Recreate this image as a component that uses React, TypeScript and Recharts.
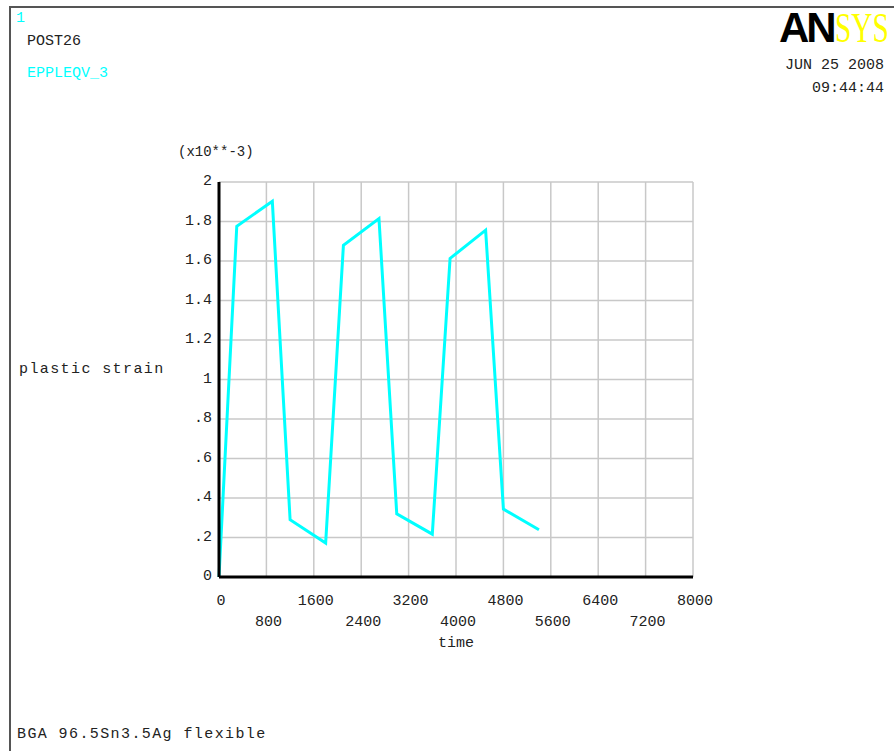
import React from "react";
import {
  LineChart,
  Line,
  XAxis,
  YAxis,
  CartesianGrid,
} from "recharts";

// time (s) and plastic strain (x10**-3)
const times = [0, 300, 900, 1200, 1800, 2100, 2700, 3000, 3600, 3900, 4500, 4800, 5400];
const strain = [0, 1.776, 1.902, 0.29, 0.172, 1.68, 1.815, 0.32, 0.217, 1.613, 1.756, 0.344, 0.239];

const xTicks = [0, 800, 1600, 2400, 3200, 4000, 4800, 5600, 6400, 7200, 8000];
const xTickLabels = ["0", "800", "1600", "2400", "3200", "4000", "4800", "5600", "6400", "7200", "8000"];
const yTicks = [0, 0.2, 0.4, 0.6, 0.8, 1, 1.2, 1.4, 1.6, 1.8, 2];
const yTickLabels = ["0", ".2", ".4", ".6", ".8", "1", "1.2", "1.4", "1.6", "1.8", "2"];

const data = times.map((t, i) => ({ time: t, strain: strain[i] }));

const MONO = "'Liberation Mono', 'DejaVu Sans Mono', monospace";
const INK = "#222";
const CYAN = "#00ffff";

const XTick = ({ x, y, index }: any) => (
  // alternate labels between two rows, like the ANSYS plot
  <text
    x={x + 2}
    y={y + (index % 2 === 0 ? 20 : 41)}
    textAnchor="middle"
    fontFamily={MONO}
    fontSize={15}
    fill={INK}
  >
    {xTickLabels[index]}
  </text>
);

const YTick = ({ x, y, index }: any) => (
  <text
    x={x + 1}
    y={y + 3}
    textAnchor="end"
    fontFamily={MONO}
    fontSize={15}
    fill={INK}
  >
    {yTickLabels[index]}
  </text>
);

export default function App() {
  return (
    <div style={{ position: "absolute", left: 0, top: 0, width: 894, height: 751, background: "#fff" }}>
      <LineChart
        width={894}
        height={751}
        data={data}
        margin={{ top: 182, right: 201, bottom: 114, left: 159 }}
      >
        <CartesianGrid stroke="#c8c8c8" strokeWidth={1.5} />
        <XAxis
          dataKey="time"
          type="number"
          domain={[0, 8000]}
          ticks={xTicks}
          interval={0}
          height={60}
          tickLine={false}
          axisLine={{ stroke: "#000", strokeWidth: 3 }}
          tick={<XTick />}
        />
        <YAxis
          type="number"
          domain={[0, 2]}
          ticks={yTicks}
          interval={0}
          width={60}
          tickLine={false}
          axisLine={{ stroke: "#000", strokeWidth: 3 }}
          tick={<YTick />}
        />
        <Line
          type="linear"
          dataKey="strain"
          stroke={CYAN}
          strokeWidth={3}
          dot={false}
          isAnimationActive={false}
        />
      </LineChart>

      <svg
        width={894}
        height={751}
        style={{ position: "absolute", left: 0, top: 0, pointerEvents: "none" }}
      >
        {/* window frame */}
        <polyline points="10,751 10,7 894,7" fill="none" stroke="#555" strokeWidth={2} />

        <text x={16} y={22} fontFamily={MONO} fontSize={15} fill={CYAN}>1</text>
        <text x={27} y={45} fontFamily={MONO} fontSize={15} fill={INK}>POST26</text>
        <text x={27} y={77} fontFamily={MONO} fontSize={15} fill={CYAN}>EPPLEQV_3</text>

        {/* logo */}
        <text x={779} y={42} fontFamily="'Liberation Sans', Arial, sans-serif" fontWeight={900} fontSize={42} letterSpacing={-3} fill="#000">AN</text>
        <text transform="translate(835,42) scale(0.7,1)" fontFamily="'Liberation Serif', serif" fontSize={42} fill="#ffff00">SYS</text>

        <text x={884} y={69} textAnchor="end" fontFamily={MONO} fontSize={15} fill={INK}>JUN 25 2008</text>
        <text x={884} y={92} textAnchor="end" fontFamily={MONO} fontSize={15} fill={INK}>09:44:44</text>

        <text x={178} y={156} fontFamily={MONO} fontSize={14} fill={INK}>(x10**-3)</text>
        <text x={19} y={373} fontFamily={MONO} fontSize={15} letterSpacing={1.4} fill={INK}>plastic strain</text>
        <text x={456} y={647} textAnchor="middle" fontFamily={MONO} fontSize={15} fill={INK}>time</text>
        <text x={17} y={738} fontFamily={MONO} fontSize={15} letterSpacing={1.4} fill={INK}>BGA 96.5Sn3.5Ag flexible</text>
      </svg>
    </div>
  );
}
